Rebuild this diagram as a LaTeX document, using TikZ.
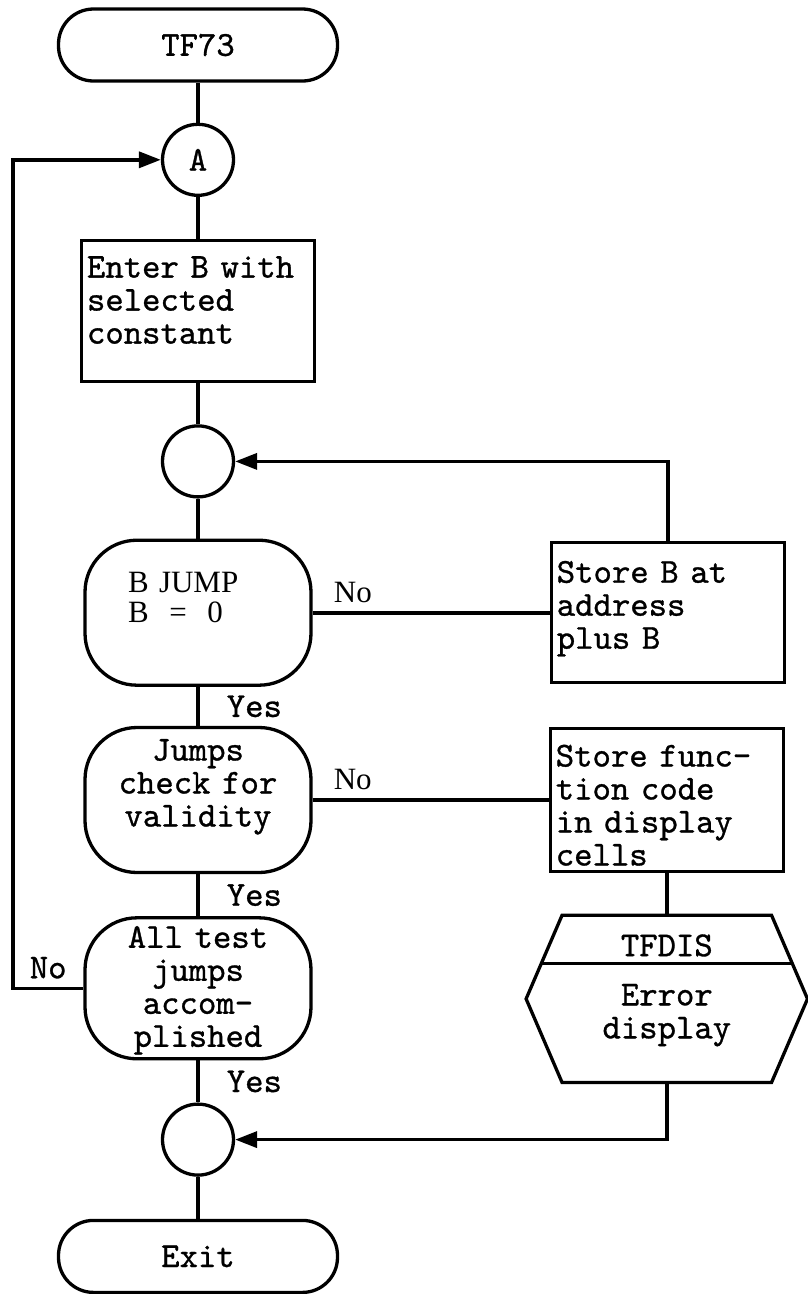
\documentclass[tikz,border=0pt]{standalone}
\usepackage{fontspec}
\newfontfamily\typefont{lmmono10-regular.otf}[FakeBold=0.9]
\newfontfamily\labelfont{Liberation Serif}
\usepackage{tikz}
\usetikzlibrary{arrows.meta, positioning, calc}

\begin{document}
\begin{tikzpicture}[
  x=1pt, y=1pt, >={Triangle[length=22pt, width=16pt]},
  node distance=42pt and 237pt,
  ttfont/.style={font=\fontsize{35}{33}\selectfont\typefont},
  rmfont/.style={font=\fontsize{31}{30}\selectfont\labelfont},
  termbox/.style={
    draw, line width=3.3pt, rounded corners=35pt, ttfont,
    minimum width=279pt, minimum height=72pt
  },
  connbox/.style={
    draw, circle, line width=3.3pt, ttfont,
    inner sep=0pt, minimum size=71pt
  },
  procbox/.style={
    draw, line width=3.3pt, ttfont, align=left,
    text width=222pt, inner xsep=5.5pt, inner ysep=0pt
  },
  decbox/.style={
    draw, line width=3.3pt, rounded corners=52pt, ttfont,
    minimum width=226pt, text width=206pt, align=center, inner ysep=0pt
  },
  hexbox/.style={
    ttfont, minimum width=281pt, text width=200pt, align=center, inner ysep=0pt
  },
  flowline/.style={line width=3.6pt},
  flowarrow/.style={->, line width=3.6pt},
  yeslabel/.style={ttfont, inner sep=2pt, right=25pt},
  nolabel/.style={rmfont, inner sep=2pt, above=6pt},
]
\useasboundingbox (0,0) rectangle (808,-1294);
% --- MAIN COLUMN ---
\node[termbox] (tf73) at (198,-45) {TF73};
\node[connbox, below=40pt of tf73] (conA) {A};
\node[procbox, below=42pt of conA, text height=37pt, text depth=104pt] (enter)
  {Enter B with\\selected\\constant};
\node[connbox, below=41pt of enter] (conB) {};
\node[decbox, below=40pt of conB, rmfont, text width=140pt, align=left,
  text height=52pt, text depth=93pt] (bjump)
  {B JUMP\\B~~=~~0};
\node[decbox, below=39pt of bjump, text height=33pt, text depth=112pt] (valid)
  {Jumps\\check for\\validity};
\node[decbox, below=42pt of valid, text height=30pt, text depth=111pt] (alltest)
  {All test\\jumps\\accom-\\plished};
\node[connbox, below=42pt of alltest] (conC) {};
\node[termbox, below=42pt of conC] (exit) {Exit};
\draw[flowline] (tf73) -- (conA);
\draw[flowline] (conA) -- (enter);
\draw[flowline] (enter) -- (conB);
\draw[flowline] (conB) -- (bjump);
\draw[flowline] (bjump) -- node[yeslabel, midway] (yes1) {Yes} (valid);
\draw[flowline] (valid) -- node[yeslabel, midway] (yes2) {Yes} (alltest);
\draw[flowline] (alltest) -- node[yeslabel, midway] (yes3) {Yes} (conC);
\draw[flowline] (conC) -- (exit);
% --- RIGHT COLUMN ---
\node[procbox, right=of bjump, text height=40pt, text depth=100pt] (storeb)
  {Store B at\\address\\plus B};
\node[procbox, right=236pt of valid, text height=38pt, text depth=105pt] (storef)
  {Store func-\\tion code\\in display\\cells};
\node[hexbox, below=42pt of storef, text height=90pt, text depth=77pt] (errdisp)
  {Error\\display};
\node[ttfont, inner sep=0pt, anchor=base] (tfdis) at ($(errdisp.north)+(0,-41)$) {TFDIS};
\draw[line width=3.3pt]
  (errdisp.west) -- ($(errdisp.north west)+(36,0)$) -- ($(errdisp.north east)+(-36,0)$)
  -- (errdisp.east) -- ($(errdisp.south east)+(-36,0)$) -- ($(errdisp.south west)+(36,0)$)
  -- cycle;
\draw[line width=3.3pt] ($(errdisp.north west)+(15,-48)$) -- ($(errdisp.north east)+(-15,-48)$);
\draw[flowline] (bjump.east) -- node[nolabel, pos=0.17] (no1) {No} (storeb.west);
\draw[flowarrow] (storeb.north) |- (conB.east);
\draw[flowline] (valid.east) -- node[nolabel, pos=0.17] (no2) {No} (storef.west);
\draw[flowline] (storef) -- (errdisp.north);
\draw[flowarrow] (errdisp.south) |- (conC.east);
% --- LOOP BACK TO A ---
\coordinate (loop) at (13,0);
\draw[flowarrow] (alltest.west)
  -- node[ttfont, inner sep=2pt, above=6pt, midway] (no3) {No} (alltest.west -| loop)
  |- (conA.west);
\end{tikzpicture}
\end{document}
